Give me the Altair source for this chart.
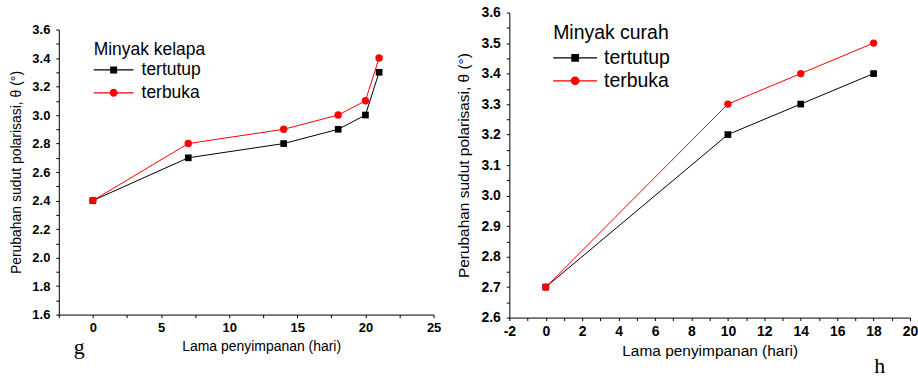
import altair as alt
import pandas as pd

FONT = "Liberation Sans"
SERIF = "Liberation Serif"

# ---- data ----
series_names = ["tertutup", "terbuka"]
series_colors = ["#000000", "#ff0000"]

# panel g : Minyak kelapa
kelapa_days = [0, 7, 14, 18, 20, 21]
kelapa_tertutup = [2.4, 2.7, 2.8, 2.9, 3.0, 3.3]
kelapa_terbuka = [2.4, 2.8, 2.9, 3.0, 3.1, 3.4]

# panel h : Minyak curah
curah_days = [0, 10, 14, 18]
curah_tertutup = [2.7, 3.2, 3.3, 3.4]
curah_terbuka = [2.7, 3.3, 3.4, 3.5]

# axis ticks (major + minor)
kelapa_x_ticks = [-2.5, 0, 2.5, 5, 7.5, 10, 12.5, 15, 17.5, 20, 22.5, 25]
kelapa_y_ticks = [1.6, 1.7, 1.8, 1.9, 2.0, 2.1, 2.2, 2.3, 2.4, 2.5, 2.6,
                  2.7, 2.8, 2.9, 3.0, 3.1, 3.2, 3.3, 3.4, 3.5, 3.6]
curah_x_ticks = [-2, -1, 0, 1, 2, 3, 4, 5, 6, 7, 8, 9, 10, 11, 12, 13, 14,
                 15, 16, 17, 18, 19, 20]
curah_y_ticks = [2.6, 2.65, 2.7, 2.75, 2.8, 2.85, 2.9, 2.95, 3.0, 3.05, 3.1,
                 3.15, 3.2, 3.25, 3.3, 3.35, 3.4, 3.45, 3.5, 3.55, 3.6]

x_title = "Lama penyimpanan (hari)"
y_title = "Perubahan sudut polarisasi, θ (°)"

# legend symbols: line segment with the marker in the middle
SQ_PATH = "M-1,-0.06H3V0.06H-1Z M0.65,-0.35H1.35V0.35H0.65Z"
CI_PATH = "M-1,-0.06H3V0.06H-1Z M1.4,0A0.4,0.4 0 1,1 0.6,0A0.4,0.4 0 1,1 1.4,0Z"


def make_panel(days, tert, terb, legend_title, xdom, ydom, xticks, yticks,
               x_label_expr, y_label_expr, w, h, y_range, tick_fs, title_fs,
               leg_fs, leg_x, leg_y, sym_size, label_offset, row_pad, title_pad,
               x_title_x, x_title_pad, y_title_pad, mark_title):
    df = pd.DataFrame({
        "day": days + days,
        "value": tert + terb,
        "series": ["tertutup"] * len(days) + ["terbuka"] * len(days),
    })
    x_axis = dict(values=xticks, labelExpr=x_label_expr, title=x_title,
                  labelFontSize=tick_fs, labelFontWeight="bold",
                  titleFontSize=title_fs, labelOverlap=False,
                  labelFlush=False, labelPadding=4, titlePadding=x_title_pad)
    if x_title_x is not None:
        x_axis["titleX"] = x_title_x
    x = alt.X("day:Q", scale=alt.Scale(domain=xdom, nice=False, zero=False),
              axis=alt.Axis(**x_axis))
    y_scale = dict(domain=ydom, nice=False, zero=False)
    if y_range is not None:
        y_scale["range"] = y_range
    y = alt.Y("value:Q", scale=alt.Scale(**y_scale),
              axis=alt.Axis(values=yticks, labelExpr=y_label_expr, title=y_title,
                            labelFontSize=tick_fs, labelFontWeight="bold",
                            titleFontSize=title_fs, labelOverlap=False,
                            labelFlush=False, labelPadding=6,
                            titlePadding=y_title_pad))
    base = alt.Chart(df).encode(x=x, y=y)
    is_t = alt.datum.series == "tertutup"
    is_r = alt.datum.series == "terbuka"
    line_t = base.transform_filter(is_t).mark_line(color="#000000", strokeWidth=1)
    pts_t = base.transform_filter(is_t).mark_square(color="#000000", size=45, opacity=1)
    line_r = base.transform_filter(is_r).mark_line(color="#ff0000", strokeWidth=1)
    pts_r = base.transform_filter(is_r).mark_circle(color="#ff0000", size=55, opacity=1)

    leg = dict(title=legend_title, orient="none", legendX=leg_x, legendY=leg_y,
               titleFont=FONT, titleFontSize=leg_fs, titleFontWeight="normal",
               titleColor="black", labelFont=FONT, labelFontSize=leg_fs,
               labelColor="black", symbolSize=sym_size, symbolStrokeWidth=0,
               labelOffset=label_offset, rowPadding=row_pad, titlePadding=title_pad,
               padding=0, labelLimit=300, titleLimit=300)
    legend_layer = base.transform_filter("false").mark_point(filled=True, opacity=1).encode(
        color=alt.Color("series:N",
                        scale=alt.Scale(domain=series_names, range=series_colors),
                        legend=alt.Legend(**leg)),
        shape=alt.Shape("series:N",
                        scale=alt.Scale(domain=series_names, range=[SQ_PATH, CI_PATH]),
                        legend=alt.Legend(**leg)),
    )
    return alt.layer(line_t, line_r, pts_t, pts_r, legend_layer).properties(
        width=w, height=h, title=mark_title)


# left plot area: same top group as the right one, but its y axis starts 17 px lower
left = make_panel(
    kelapa_days, kelapa_tertutup, kelapa_terbuka, "Minyak kelapa",
    [-2.5, 25], [1.6, 3.6], kelapa_x_ticks, kelapa_y_ticks,
    "abs(round(datum.value * 10)) % 50 == 0 ? '' + datum.value : ''",
    "round(datum.value * 10) % 2 == 0 ? format(datum.value, '.1f') : ''",
    376, 303, [303, 17], 13, 14, 17.5, 35, 29, 400, 28, 4, 1,
    203, 5, 8,
    alt.TitleParams("g", orient="bottom", anchor="start", frame="group",
                    font=SERIF, fontSize=22, fontWeight="normal", color="black",
                    dx=15, offset=-16),
)

right = make_panel(
    curah_days, curah_tertutup, curah_terbuka, "Minyak curah",
    [-2, 20], [2.6, 3.6], curah_x_ticks, curah_y_ticks,
    "abs(datum.value) % 2 == 0 ? '' + datum.value : ''",
    "round(datum.value * 100) % 10 == 0 ? format(datum.value, '.1f') : ''",
    402, 306, None, 14, 15.5, 19.5, 44, 12, 484, 29, 2, 3,
    None, 5, 10,
    alt.TitleParams("h", orient="bottom", anchor="end", frame="group",
                    font=SERIF, fontSize=22, fontWeight="normal", color="black",
                    dx=-25, offset=-3),
)

chart = alt.hconcat(left, right, spacing=14).resolve_scale(
    color="independent", shape="independent"
).resolve_legend(
    color="independent", shape="independent"
).properties(
    padding={"left": 9, "top": 5, "right": 0, "bottom": 0}
).configure_axis(
    grid=False, domainColor="black", tickColor="black", domainWidth=1,
    tickWidth=1, tickSize=3, labelColor="black", titleColor="black",
    labelFont=FONT, titleFont=FONT, titleFontWeight="normal",
).configure_view(stroke=None)

chart.save("out.html", embed_options={"renderer": "svg", "actions": False})
